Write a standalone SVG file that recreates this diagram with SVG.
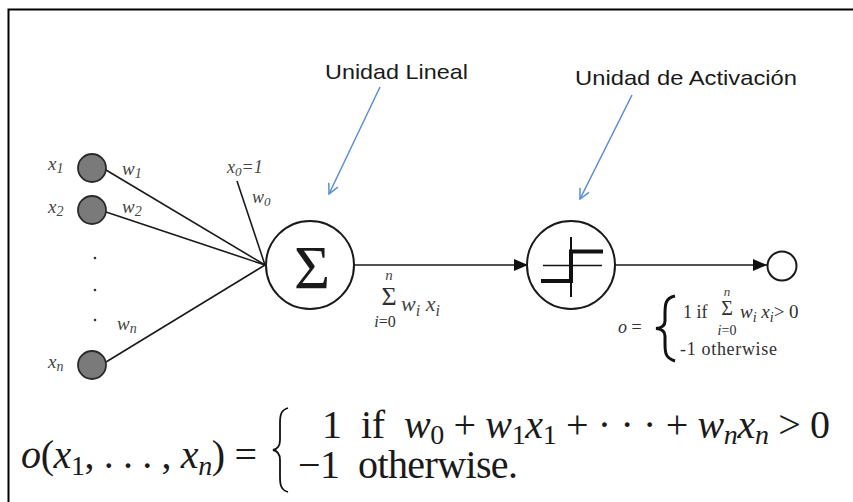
<svg xmlns="http://www.w3.org/2000/svg" width="853" height="502" viewBox="0 0 853 502">
<defs>
<style>
.ln{stroke:#1a1a1a;stroke-width:1.6;fill:none}
.inp{fill:#7a7a7a;stroke:#2a2a2a;stroke-width:1.8}
.unit{fill:#fff;stroke:#1a1a1a;stroke-width:2}
.lbl{font-family:"Liberation Serif",serif;font-style:italic;fill:#454545}
.rm{font-family:"Liberation Serif",serif;fill:#303030}
.math{font-family:"Liberation Serif",serif;fill:#1a1a1a}
.it{font-style:italic}
.blue{stroke:#5b8ed6;stroke-width:1.5;fill:none}
.ann{font-family:"Liberation Sans",Arial,sans-serif;font-size:21px;fill:#1a1a1a}
</style>
<marker id="ah" viewBox="0 0 14 12" refX="14" refY="6" markerWidth="14" markerHeight="12" markerUnits="userSpaceOnUse" orient="auto">
<path d="M0,0 L14,6 L0,12 Z" fill="#111"/>
</marker>
<marker id="bh" viewBox="0 0 12 12" refX="11" refY="6" markerWidth="12" markerHeight="12" markerUnits="userSpaceOnUse" orient="auto">
<path d="M1,1 L11,6 L1,11" fill="none" stroke="#5b8ed6" stroke-width="1.5"/>
</marker>
</defs>
<rect width="853" height="502" fill="#fff"/>
<path d="M8.5,502 L8.5,9.5 L853,9.5" fill="none" stroke="#000" stroke-width="2"/>

<g id="connectors">
<line class="ln" x1="106" y1="170" x2="265" y2="265"/>
<line class="ln" x1="106" y1="212" x2="265" y2="265"/>
<line class="ln" x1="106" y1="362" x2="265" y2="265"/>
<line class="ln" x1="237" y1="181" x2="265" y2="265"/>
<line class="ln" x1="353" y1="265" x2="528" y2="265" marker-end="url(#ah)"/>
<line class="ln" x1="615" y1="265" x2="767" y2="265" marker-end="url(#ah)"/>
<line class="blue" x1="380" y1="87" x2="329" y2="194" marker-end="url(#bh)"/>
<line class="blue" x1="632" y1="95" x2="580" y2="199" marker-end="url(#bh)"/>
</g>

<g id="x1">
<circle class="inp" cx="92" cy="168" r="14"/>
<text class="lbl" x="48" y="170" font-size="19">x<tspan font-size="14" dy="3">1</tspan></text>
<text class="lbl" x="122" y="175" font-size="19">w<tspan font-size="14" dy="3">1</tspan></text>
</g>
<g id="x2">
<circle class="inp" cx="92" cy="210" r="14"/>
<text class="lbl" x="48" y="213" font-size="19">x<tspan font-size="14" dy="3">2</tspan></text>
<text class="lbl" x="122" y="213" font-size="19">w<tspan font-size="14" dy="3">2</tspan></text>
</g>
<g id="dots" fill="#333">
<circle cx="95" cy="258" r="1.3"/>
<circle cx="95" cy="290" r="1.3"/>
<circle cx="95" cy="320" r="1.3"/>
</g>
<g id="xn">
<circle class="inp" cx="92" cy="365" r="14"/>
<text class="lbl" x="48" y="368" font-size="19">x<tspan font-size="14" dy="3">n</tspan></text>
<text class="lbl" x="117" y="330" font-size="19">w<tspan font-size="14" dy="3">n</tspan></text>
</g>
<g id="x0">
<text class="lbl" x="227" y="173" font-size="18">x<tspan font-size="13" dy="3">0</tspan><tspan dy="-3">=1</tspan></text>
<text class="lbl" x="252" y="203" font-size="18">w<tspan font-size="13" dy="3">0</tspan></text>
</g>

<g id="sum">
<circle class="unit" cx="310" cy="265" r="44"/>
<text class="math" x="312" y="288" font-size="62" text-anchor="middle">Σ</text>
</g>
<g id="sumlabel">
<text class="lbl" x="389" y="280" font-size="15" text-anchor="middle">n</text>
<text class="rm" x="389" y="305" font-size="26" text-anchor="middle">Σ</text>
<text class="rm" x="385" y="327" font-size="16" text-anchor="middle"><tspan class="it">i</tspan>=0</text>
<text class="lbl" x="401" y="311" font-size="22">w<tspan font-size="16" dy="5">i</tspan><tspan dy="-5"> x</tspan><tspan font-size="16" dy="5">i</tspan></text>
</g>

<g id="activation">
<circle class="unit" cx="571" cy="265" r="44"/>
<line x1="571" y1="237" x2="571" y2="297" stroke="#111" stroke-width="2"/>
<line x1="543" y1="265.5" x2="602" y2="265.5" stroke="#111" stroke-width="1.5"/>
<path d="M541,281 L571,281 L571,251.5 L603,251.5" fill="none" stroke="#111" stroke-width="4"/>
</g>

<g id="output">
<circle class="unit" cx="782" cy="266" r="14.5" stroke-width="1.8"/>
<text class="rm" x="618" y="333" font-size="18"><tspan class="it">o</tspan> =</text>
<path d="M675,296 C665,298 665,305 665,314 L665,321 C665,326 662,328 656,328.5 C662,329 665,331 665,336 L665,343 C665,352 665,358 675,361" fill="none" stroke="#111" stroke-width="3"/>
<text class="rm" x="683" y="318" font-size="18">1 if</text>
<text class="lbl" x="727" y="296" font-size="13" text-anchor="middle">n</text>
<text class="rm" x="727" y="315" font-size="20" text-anchor="middle">Σ</text>
<text class="rm" x="727" y="335" font-size="14" text-anchor="middle"><tspan class="it">i</tspan>=0</text>
<text class="rm" x="740" y="318" font-size="19"><tspan class="it">w</tspan><tspan class="it" font-size="14" dy="4">i</tspan><tspan class="it" dy="-4"> x</tspan><tspan class="it" font-size="14" dy="4">i</tspan><tspan dy="-4">&gt; 0</tspan></text>
<text class="rm" x="680" y="355" font-size="18" textLength="97">-1 otherwise</text>
</g>

<g id="labels">
<text class="ann" x="325" y="79" textLength="143" lengthAdjust="spacingAndGlyphs">Unidad Lineal</text>
<text class="ann" x="575" y="85" textLength="222" lengthAdjust="spacingAndGlyphs">Unidad de Activación</text>
</g>

<g id="formula">
<text class="math" x="21" y="468" font-size="40" textLength="236" xml:space="preserve"><tspan class="it">o</tspan>(<tspan class="it">x</tspan><tspan font-size="28" dy="7">1</tspan><tspan dy="-7">, . . . , </tspan><tspan class="it">x</tspan><tspan class="it" font-size="28" dy="7">n</tspan><tspan dy="-7">) =</tspan></text>
<path d="M288,408 C281,410 280,415 280,423 L280,440 C280,446 278,449 273,450 C278,451 280,454 280,460 L280,477 C280,485 281,490 288,492" fill="none" stroke="#111" stroke-width="1.8"/>
<text class="math" x="322" y="438" font-size="40" textLength="508" xml:space="preserve">1  if  <tspan class="it">w</tspan><tspan font-size="28" dy="6">0</tspan><tspan dy="-6"> + </tspan><tspan class="it">w</tspan><tspan font-size="28" dy="6">1</tspan><tspan class="it" dy="-6">x</tspan><tspan font-size="28" dy="6">1</tspan><tspan dy="-6"> + · · · + </tspan><tspan class="it">w</tspan><tspan class="it" font-size="28" dy="6">n</tspan><tspan class="it" dy="-6">x</tspan><tspan class="it" font-size="28" dy="6">n</tspan><tspan dy="-6"> &gt; 0</tspan></text>
<text class="math" x="298" y="478" font-size="40" textLength="220" xml:space="preserve">−1  otherwise.</text>
</g>
</svg>
